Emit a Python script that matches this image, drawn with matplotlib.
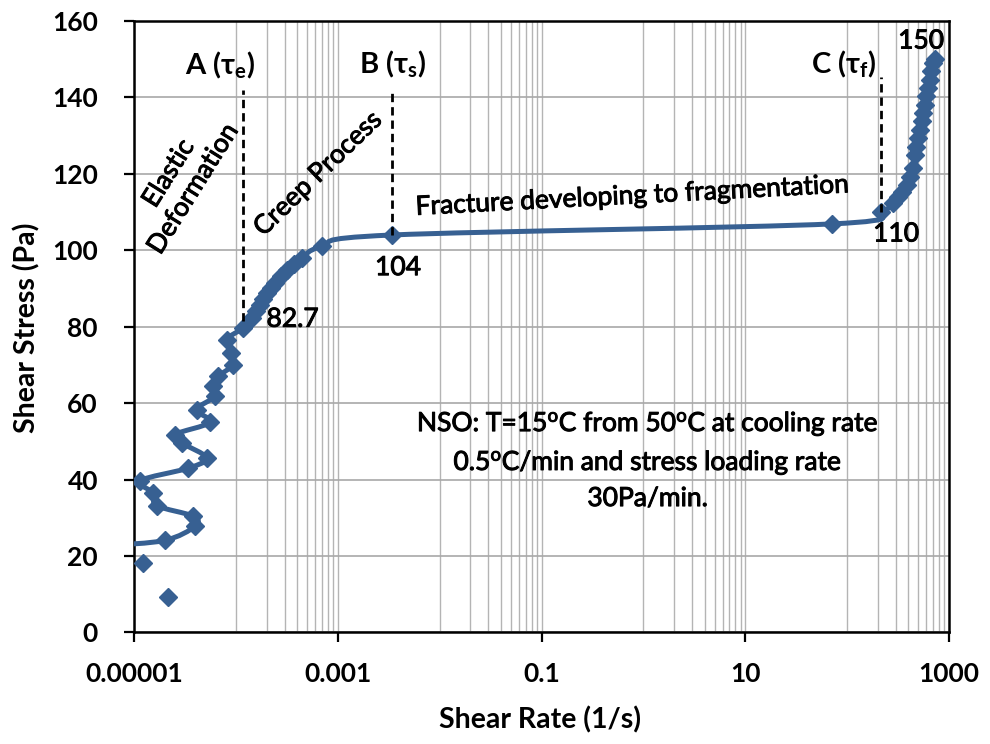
import numpy as np
import matplotlib
matplotlib.use("Agg")
import matplotlib.pyplot as plt
import matplotlib.patheffects as pe
from matplotlib.path import Path
from matplotlib.patches import PathPatch
from matplotlib.ticker import FixedLocator, NullFormatter

plt.rcParams['font.family'] = ['Lato', 'DejaVu Sans']
plt.rcParams['mathtext.fontset'] = 'custom'
plt.rcParams['mathtext.rm'] = 'Lato'
plt.rcParams['mathtext.it'] = 'Lato:italic'
plt.rcParams['mathtext.bf'] = 'Lato:bold'
plt.rcParams['mathtext.fallback'] = 'stixsans'

# data (shear rate in 1/s, shear stress in Pa)
rate = [6.0e-6, 2.01e-5, 3.97e-5, 3.82e-5, 1.67e-5, 1.55e-5, 1.15e-5, 3.41e-5,
        5.17e-5, 2.94e-5, 2.52e-5, 5.57e-5, 4.12e-5, 6.24e-5, 6.0e-5, 6.72e-5,
        9.42e-5, 9.0e-5, 8.13e-5, 1.18e-4, 1.43e-4, 1.58e-4, 1.72e-4, 1.86e-4,
        2.0e-4, 2.2e-4, 2.42e-4, 2.75e-4, 3.15e-4, 3.7e-4, 4.43e-4, 6.95e-4,
        3.38e-3, 70.3, 214, 282, 316, 342, 383, 412, 444, 461, 479, 497, 517,
        537, 557, 579, 601, 624, 648, 673, 699, 726]
stress = [22.8, 24.1, 27.8, 30.4, 33.2, 36.5, 39.7, 43.0,
          45.7, 49.6, 51.8, 55.0, 58.3, 61.8, 64.4, 67.0,
          70.1, 73.1, 76.6, 79.7, 82.3, 84.0, 85.8, 87.3,
          88.8, 90.1, 91.4, 93.2, 94.9, 96.5, 98.0, 101.0,
          104.0, 106.9, 110.1, 112.3, 114.0, 115.3, 117.1, 119.3, 121.5, 124.9, 127.1, 129.3, 131.5,
          133.7, 135.9, 138.1, 140.3, 142.4, 144.6, 146.8, 149.0, 150.0]
# two loose points at the bottom, not joined by the line
rate_loose = [1.23e-5, 2.17e-5]
stress_loose = [18.2, 9.2]

# marked points A, B, C (dashed guide lines)
guide_x = [1.18e-4, 3.38e-3, 214]
guide_y0 = [81.4, 104.0, 110.1]
guide_y1 = [141.9, 141.5, 145.4]

blue = '#376092'


def smooth_path(x, y):
    # excel-like smoothed line: cubic bezier through each point
    lx = np.log10(np.asarray(x, dtype=float))
    yy = np.asarray(y, dtype=float)
    n = len(lx)
    verts = [(x[0], y[0])]
    codes = [Path.MOVETO]
    for i in range(n - 1):
        p0 = max(i - 1, 0)
        p3 = min(i + 2, n - 1)
        c1x = lx[i] + (lx[i + 1] - lx[p0]) / 6
        c1y = yy[i] + (yy[i + 1] - yy[p0]) / 6
        c2x = lx[i + 1] - (lx[p3] - lx[i]) / 6
        c2y = yy[i + 1] - (yy[p3] - yy[i]) / 6
        verts += [(10 ** c1x, c1y), (10 ** c2x, c2y), (x[i + 1], y[i + 1])]
        codes += [Path.CURVE4] * 3
    return Path(verts, codes)


fig = plt.figure(figsize=(9.9, 7.44), dpi=100)
ax = fig.add_axes([0.1354, 0.1499, 0.8232, 0.8219])
ax.set_xscale('log')
ax.set_xlim(1e-5, 1000)
ax.set_ylim(0, 160)

ax.add_patch(PathPatch(smooth_path(rate, stress), facecolor='none',
                       edgecolor=blue, lw=3.6, zorder=3))
ax.plot(rate, stress, ls='none', marker='D', ms=8.8, color=blue, zorder=4)
ax.plot(rate_loose, stress_loose, ls='none', marker='D', ms=8.8, color=blue, zorder=4)

for gx, g0, g1 in zip(guide_x, guide_y0, guide_y1):
    ax.plot([gx, gx], [g0, g1], color='black', lw=2.0, ls=(0, (3, 1.8)), zorder=5)

# axes, ticks, grid
ax.xaxis.set_major_locator(FixedLocator([1e-5, 1e-3, 1e-1, 10, 1000]))
ax.set_xticklabels(['0.00001', '0.001', '0.1', '10', '1000'])
minors = [k * 10.0 ** m for m in (-4, -2, 0, 2) for k in range(1, 10)]
ax.xaxis.set_minor_locator(FixedLocator(minors))
ax.xaxis.set_minor_formatter(NullFormatter())
ax.set_yticks(np.arange(0, 161, 20))
ax.grid(True, which='both', axis='x', color='#b4b4b4', lw=1.0, zorder=0)
ax.grid(True, which='major', axis='y', color='#a8a8a8', lw=1.2, zorder=0)
ax.set_axisbelow(True)
ax.tick_params(axis='both', which='major', direction='out', length=7, width=1.6,
               labelsize=19)
ax.tick_params(axis='x', which='major', pad=14)
ax.tick_params(axis='y', which='major', pad=19)
ax.tick_params(axis='x', which='minor', length=0)
for lab in ax.get_xticklabels() + ax.get_yticklabels():
    lab.set_fontweight('bold')
for sp in ax.spines.values():
    sp.set_linewidth(1.8)
    sp.set_color('black')

fig.text(0.545, 0.032, 'Shear Rate (1/s)', ha='center', va='center', fontsize=20.5, fontweight='bold')
fig.text(0.027, 0.559, 'Shear Stress (Pa)', ha='center', va='center', rotation=90,
         fontsize=20.5, fontweight='bold')

# annotations
ax.text(6.98e-5, 145.9, r'A ($\mathbf{\tau}_\mathbf{e}$)', ha='center', va='baseline',
        fontsize=21, fontweight='bold')
ax.text(3.44e-3, 146.3, r'B ($\mathbf{\tau}_\mathbf{s}$)', ha='center', va='baseline',
        fontsize=21, fontweight='bold')
ax.text(92.3, 146.3, r'C ($\mathbf{\tau}_\mathbf{f}$)', ha='center', va='baseline',
        fontsize=21, fontweight='bold')
# regular weight looks a bit thin next to the original, thicken slightly
heavier = [pe.withStroke(linewidth=0.7, foreground='black')]
lab_kw = dict(fontsize=19, path_effects=heavier)
ax.text(531, 152.8, '150', ha='center', va='baseline', **lab_kw)
ax.text(302, 102.3, '110', ha='center', va='baseline', **lab_kw)
ax.text(3.9e-3, 93.5, '104', ha='center', va='baseline', **lab_kw)
ax.text(3.6e-4, 80.0, '82.7', ha='center', va='baseline', **lab_kw)
ax.text(0.79, 114.2, 'Fracture developing to fragmentation', ha='center', va='center',
        rotation=3, rotation_mode='anchor', **lab_kw)
ax.text(6.4e-4, 120.0, 'Creep Process', ha='center', va='center',
        rotation=44, rotation_mode='anchor', **lab_kw)
ax.text(2.89e-5, 118.1, 'Elastic\nDeformation', ha='center', va='center', multialignment='center',
        rotation=58, rotation_mode='anchor', linespacing=1.2, **lab_kw)
ax.text(1.1, 45.1, 'NSO: T=15$^\\mathrm{o}$C from 50$^\\mathrm{o}$C at cooling rate\n'
        '0.5$^\\mathrm{o}$C/min and stress loading rate\n30Pa/min.',
        ha='center', va='center', multialignment='center', linespacing=1.45, **lab_kw)

fig.savefig('out.png', dpi=100)
